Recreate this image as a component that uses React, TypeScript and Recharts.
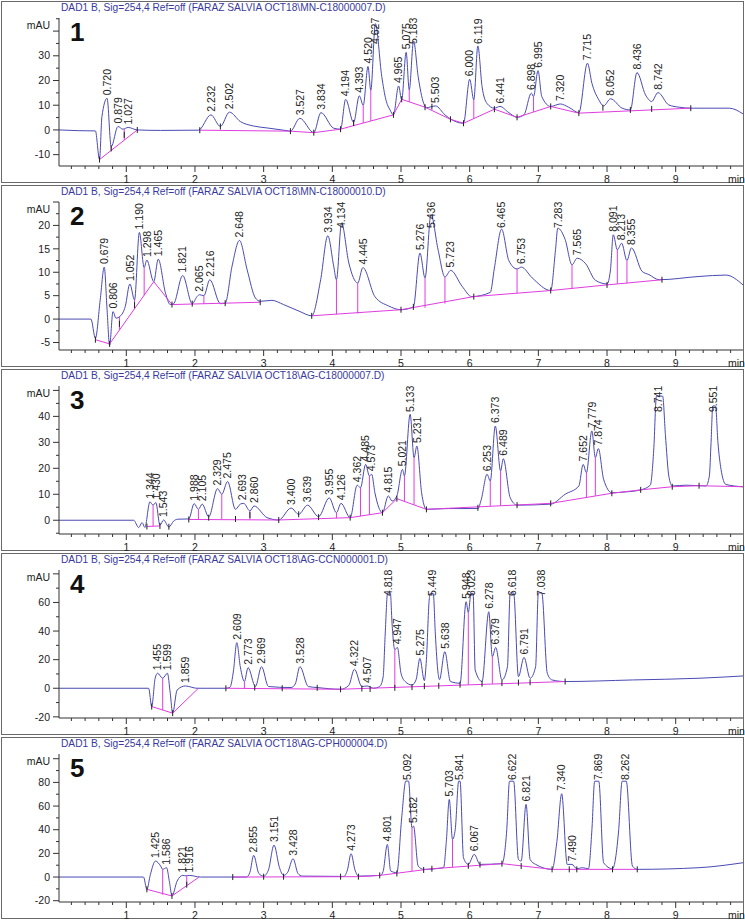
import React from "react";
import { ComposedChart, Line, Scatter, XAxis, YAxis, ReferenceLine } from "recharts";

type Pt = [number, number | null];
type Drop = [number, number, number];

const FONT = "'Liberation Sans', Arial, sans-serif";
const TRACE = "#4a4ab4";
const BASE = "#e03ce0";

// ---- panel 1 : MN-C18000007 ----
const p1Trace: Pt[] = [
  [0.02, 0], [0.3, -0.3], [0.55, -0.4], [0.61, -12], [0.645, 5.4], [0.72, 12.8], [0.78, -6.8], [0.879, 1.4],
  [0.95, 0.3], [1.027, 1.0], [1.16, 0], [1.5, -0.2], [2.05, -0.1], [2.232, 6.1], [2.37, 1.4], [2.502, 7.2],
  [2.66, 3.4], [2.85, 1.6], [3.05, 0.8], [3.34, -0.3], [3.39, -0.5], [3.527, 4.7], [3.73, -1.1], [3.834, 7.0],
  [4.02, 0.7], [4.12, 0.3], [4.194, 12.4], [4.31, 3.0], [4.393, 13.8], [4.45, 10], [4.52, 25.7], [4.56, 16],
  [4.627, 43], [4.72, 21.6], [4.78, 12.2], [4.84, 8.1], [4.89, 6.1], [4.965, 17.8], [5.01, 12.2], [5.075, 31.4],
  [5.12, 16.2], [5.183, 36], [5.25, 21.6], [5.33, 10.8], [5.37, 9], [5.503, 9.7], [5.64, 6.1], [5.74, 4.1],
  [5.91, 2.7], [6.0, 20.5], [6.06, 12.2], [6.119, 34], [6.18, 17.6], [6.25, 10.8], [6.36, 8.8], [6.441, 9.5],
  [6.57, 7.0], [6.69, 5.1], [6.79, 6.1], [6.898, 14.9], [6.93, 13.5], [6.995, 24], [7.05, 13.5], [7.18, 9.5],
  [7.32, 10.5], [7.44, 9.2], [7.59, 7.0], [7.715, 27], [7.78, 18.9], [7.88, 12.2], [7.95, 9.7], [8.052, 12.6],
  [8.22, 8.8], [8.34, 8.1], [8.436, 23.2], [8.56, 14.2], [8.65, 11.5], [8.742, 15.1], [8.9, 10.1], [9.05, 9.2],
  [9.22, 8.8], [9.78, 8.8], [9.98, 6.5],
];
const p1Base: Pt[] = [
  [0.61, -12], [1.16, 0], [1.6, null], [2.07, -0.1], [3.39, -0.5], [3.73, -1.1], [4.12, 0.3], [4.89, 6.1],
  [5.01, 12.4], [5.35, 9.2], [5.72, 4.3], [5.91, 2.7], [6.36, 8.4], [6.69, 5.1], [7.18, 9.5], [7.59, 6.8], [9.22, 8.8],
];
const p1Drops: Drop[] = [
  [0.78, -8.3, -6.8], [0.97, -4.1, 0.3], [4.31, 1.7, 3.0], [4.45, 2.8, 10], [4.56, 3.6, 16],
  [5.12, 11.4, 16.2], [6.06, 4.6, 12.2], [6.93, 7.3, 13.5],
];
const p1Marks: Pt[] = [
  [0.61, -12], [0.78, -7.5], [0.97, -2], [1.16, 0], [2.07, -0.1], [2.37, 1.4], [3.39, -0.5], [3.73, -1.1],
  [4.12, 0.3], [4.31, 2.8], [4.89, 6.1], [5.01, 12.4], [5.35, 9.2], [5.45, 9.4], [5.72, 4.3], [5.91, 2.7],
  [6.36, 8.4], [6.69, 5.1], [7.18, 9.5], [7.59, 6.8], [7.94, 9.0], [8.34, 8.1], [8.65, 8.5], [9.22, 8.8],
];
const p1Peaks: Pt[] = [
  [0.72, 12.8], [0.879, 1.4], [1.027, 1.0], [2.232, 6.1], [2.502, 7.2], [3.527, 4.7], [3.834, 7.0], [4.194, 12.4],
  [4.393, 13.8], [4.52, 25.7], [4.627, 43], [4.965, 17.8], [5.075, 31.4], [5.183, 36], [5.503, 9.7], [6.0, 20.5],
  [6.119, 34], [6.441, 9.5], [6.898, 14.9], [6.995, 24], [7.32, 10.5], [7.715, 27], [8.052, 12.6], [8.436, 23.2],
  [8.742, 15.1],
];

// ---- panel 2 : MN-C18000010 ----
const p2Trace: Pt[] = [
  [0.02, 0], [0.485, 0], [0.55, -4.1], [0.62, 4.1], [0.679, 11.1], [0.72, 2], [0.757, -5.6], [0.806, 1.6],
  [0.85, 0.2], [0.91, 0.6], [0.985, 2.7], [1.052, 7.5], [1.12, 4.1], [1.19, 18.5], [1.26, 11.0], [1.298, 12.6],
  [1.4, 8.0], [1.465, 12.8], [1.57, 5.6], [1.64, 3.1], [1.69, 3.3], [1.821, 9.3], [1.96, 3.3], [2.03, 4.8],
  [2.065, 5.2], [2.13, 5.0], [2.216, 8.4], [2.37, 3.3], [2.44, 3.4], [2.54, 11.3], [2.648, 16.8], [2.76, 10.5],
  [2.88, 4.5], [2.95, 3.8], [3.12, 4.0], [3.29, 3.1], [3.53, 1.6], [3.7, 0.7], [3.83, 8.4], [3.934, 17.8],
  [4.02, 11.3], [4.06, 8.4], [4.134, 20.5], [4.24, 12.0], [4.37, 7.7], [4.445, 11.0], [4.62, 4.8], [4.82, 2.8],
  [5.0, 2.0], [5.18, 2.6], [5.276, 14.1], [5.35, 8.8], [5.436, 22.3], [5.54, 14.8], [5.64, 9.0], [5.723, 10.4],
  [5.89, 7.0], [6.03, 4.8], [6.3, 5.7], [6.36, 10.9], [6.465, 19.2], [6.57, 12.5], [6.69, 10.7], [6.753, 11.1],
  [6.91, 8.8], [7.18, 6.1], [7.25, 14.8], [7.283, 19.4], [7.39, 17], [7.49, 11.6], [7.565, 13.0], [7.69, 11.8],
  [7.83, 8.3], [8.0, 7.5], [8.05, 10.5], [8.091, 18.0], [8.15, 14.8], [8.213, 16.2], [8.29, 12.5], [8.355, 15.2],
  [8.51, 10.2], [8.61, 9.5], [8.76, 8.4], [9.34, 9.1], [9.73, 9.4], [9.98, 7.3],
];
const p2Base: Pt[] = [
  [0.55, -4.4], [0.757, -5.3], [1.4, 8.0], [1.665, 3.1], [2.95, 3.6], [3.3, null], [3.7, 0.7], [5.0, 2.0],
  [6.06, 4.8], [7.18, 6.1], [8.0, 7.3], [8.8, 8.4],
];
const p2Drops: Drop[] = [
  [0.9, -2.3, 0.6], [1.12, 2.2, 4.1], [1.26, 5.1, 11.0], [2.13, 3.2, 5.0], [4.06, 1.0, 8.4], [4.37, 1.2, 7.7],
  [5.35, 2.4, 8.8], [5.64, 3.3, 9.0], [6.69, 5.5, 10.7], [7.49, 6.5, 11.6], [8.15, 7.5, 14.8], [8.29, 7.6, 12.5],
];
const p2Marks: Pt[] = [
  [0.55, -4.4], [0.757, -5.3], [0.9, -1], [1.12, 3], [1.665, 3.1], [1.96, 3.3], [2.44, 3.4], [2.95, 3.6],
  [3.7, 0.7], [5.0, 2.0], [5.18, 2.6], [6.06, 4.8], [7.18, 6.1], [8.0, 7.3], [8.8, 8.4],
];
const p2Peaks: Pt[] = [
  [0.679, 11.1], [0.806, 1.6], [1.052, 7.5], [1.19, 18.5], [1.298, 12.6], [1.465, 12.8], [1.821, 9.3],
  [2.065, 5.2], [2.216, 8.4], [2.648, 16.8], [3.934, 17.8], [4.134, 20.5], [4.445, 11.0], [5.276, 14.1],
  [5.436, 22.3], [5.723, 10.4], [6.465, 19.2], [6.753, 11.1], [7.283, 19.4], [7.565, 13.0], [8.091, 18.0],
  [8.213, 16.2], [8.355, 15.2],
];

// ---- panel 3 : AG-C18000007 ----
const p3Trace: Pt[] = [
  [0.02, 0], [1.107, 0], [1.18, -2.8], [1.23, -0.9], [1.27, -2.8], [1.344, 7.1], [1.39, 5.8], [1.43, 6.8],
  [1.49, -1.9], [1.543, 0.1], [1.62, -2.6], [1.69, -0.3], [1.75, 0.4], [1.91, 0.5], [1.988, 6.4], [2.05, 4.2],
  [2.105, 6.2], [2.2, 1.3], [2.329, 12.2], [2.39, 10], [2.475, 14.9], [2.59, 4.2], [2.66, 6.2], [2.71, 6.5],
  [2.8, 3.6], [2.86, 5.5], [3.05, 1.0], [3.22, 0.1], [3.4, 4.7], [3.51, 2.3], [3.639, 5.8], [3.8, 1.4],
  [3.955, 8.6], [4.06, 2.9], [4.126, 6.5], [4.26, 1.0], [4.362, 13.5], [4.41, 12.5], [4.485, 21.5], [4.54, 17.1],
  [4.573, 17.7], [4.62, 10.6], [4.73, 2.9], [4.815, 9.4], [4.87, 7.4], [4.94, 9.4], [5.021, 19.6], [5.05, 17.1],
  [5.133, 40.8], [5.19, 24.1], [5.231, 28.6], [5.3, 10.6], [5.37, 4.2], [5.69, 4.5], [6.12, 4.5], [6.17, 8.1],
  [6.253, 17.7], [6.3, 15.1], [6.373, 36.3], [6.45, 19.0], [6.489, 23.7], [6.59, 8.7], [6.69, 5.8], [7.18, 6.2],
  [7.39, 10], [7.59, 13.2], [7.652, 21.5], [7.7, 18.3], [7.779, 34.4], [7.83, 24.1], [7.874, 27.6], [7.95, 15.8],
  [8.07, 10.6], [8.27, 10.9], [8.49, 11.7], [8.63, 13.5], [8.68, 27], [8.72, 47.8], [8.81, 47.8], [8.85, 33],
  [8.9, 17], [8.95, 13.2], [9.15, 13.5], [9.44, 13.2], [9.49, 17], [9.515, 30], [9.54, 44], [9.58, 44],
  [9.615, 30], [9.66, 19.6], [9.73, 13.8], [9.98, 12.9],
];
const p3Base: Pt[] = [
  [1.3, -2.4], [1.49, -2.2], [1.7, null], [1.91, 0.3], [3.22, 0.1], [4.26, 1.0], [4.73, 2.9], [4.94, 8.3],
  [5.37, 4.2], [7.18, 6.5], [8.07, 10.4], [8.49, 11.7], [8.95, 12.9], [9.34, 13.3], [9.98, 12.9],
];
const p3Drops: Drop[] = [
  [1.39, -2.3, 5.8], [2.05, 0.3, 4.2], [2.39, 0.4, 10], [2.8, 0.2, 3.6], [4.06, 0.8, 2.9], [4.41, 1.6, 12.5],
  [4.54, 2.1, 17.1], [5.05, 7.3, 17.1], [5.19, 5.9, 24.1], [6.3, 5.4, 15.1], [6.45, 5.6, 19.0],
  [7.7, 8.8, 18.3], [7.83, 9.4, 24.1],
];
const p3Marks: Pt[] = [
  [1.3, -2.4], [1.49, -2.2], [1.62, -2.5], [1.91, 0.3], [2.2, 1.0], [2.59, 0.5], [2.8, 2], [3.22, 0.1],
  [3.51, 2.3], [3.8, 1.2], [4.26, 1.0], [4.73, 2.9], [4.94, 8.3], [5.37, 4.2], [6.12, 4.8], [6.69, 5.8],
  [7.18, 6.5], [8.07, 10.4], [8.49, 11.7], [8.95, 12.9], [9.34, 13.3],
];
const p3Peaks: Pt[] = [
  [1.344, 7.1], [1.43, 6.8], [1.543, 0.1], [1.988, 6.4], [2.105, 6.2], [2.329, 12.2], [2.475, 14.9], [2.693, 6.5],
  [2.86, 5.5], [3.4, 4.7], [3.639, 5.8], [3.955, 8.6], [4.126, 6.5], [4.362, 13.5], [4.485, 21.5], [4.573, 17.7],
  [4.815, 9.4], [5.021, 19.6], [5.133, 40.8], [5.231, 28.6], [6.253, 17.7], [6.373, 36.3], [6.489, 23.7],
  [7.652, 21.5], [7.779, 34.4], [7.874, 27.6], [8.741, 47.8], [9.551, 44],
];

// ---- panel 4 : AG-CCN000001 ----
const p4Trace: Pt[] = [
  [0.02, 0], [1.325, 0], [1.37, -12.8], [1.42, 7.0], [1.455, 10.5], [1.53, 7.0], [1.599, 10.5], [1.64, -3.5],
  [1.675, -17.4], [1.74, -1.2], [1.859, 1.6], [2.03, 0], [2.45, 0], [2.51, 0.7], [2.56, 12], [2.609, 31.9],
  [2.66, 15], [2.72, 4.7], [2.773, 14.4], [2.88, 1.2], [2.969, 15.1], [3.07, 1.2], [3.4, 0.5], [3.46, 3],
  [3.528, 15.1], [3.65, 1.2], [3.78, 0.5], [4.12, -0.7], [4.24, 2.0], [4.322, 13.3], [4.43, 1.2], [4.507, 1.6],
  [4.6, 0], [4.69, 1.2], [4.74, 8], [4.77, 38], [4.805, 66.7], [4.845, 66.7], [4.87, 45], [4.91, 27],
  [4.947, 28.6], [5.0, 10.5], [5.06, 4.7], [5.16, 2.3], [5.22, 6], [5.275, 20.9], [5.34, 5.3], [5.37, 20],
  [5.41, 61.6], [5.425, 66.3], [5.47, 66.3], [5.5, 38], [5.54, 10.5], [5.56, 6], [5.638, 25.6], [5.72, 4.7],
  [5.86, 3.5], [5.948, 60.5], [5.98, 53], [6.02, 66.3], [6.05, 66.3], [6.08, 12.8], [6.18, 4.7], [6.278, 53.5],
  [6.33, 22.1], [6.379, 28.6], [6.47, 5.8], [6.55, 15], [6.59, 66.7], [6.64, 66.7], [6.71, 8.1], [6.791, 21.6],
  [6.88, 7.0], [6.96, 15], [7.0, 66.7], [7.05, 66.7], [7.13, 10.5], [7.2, 5.8], [7.39, 4.7], [8.37, 5.8],
  [9.34, 7.0], [9.98, 8.6],
];
const p4Base: Pt[] = [
  [1.37, -12.8], [1.675, -17.4], [2.05, 0], [2.2, null], [2.45, 0], [4.12, -0.7], [7.39, 4.7],
];
const p4Drops: Drop[] = [
  [1.53, -15.3, 7.0], [2.72, -0.2, 4.7], [4.91, 0.6, 27], [5.98, 2.4, 53], [6.33, 3.0, 22.1],
];
const p4Marks: Pt[] = [
  [1.37, -12.8], [1.675, -17.4], [2.45, 0], [2.87, 0.5], [3.27, 0], [3.78, 0.3], [4.12, -0.7], [4.43, -0.2],
  [4.55, -0.5], [4.91, 0.3], [5.16, 0.8], [5.34, 1.5], [5.55, 1.7], [5.86, 2.5], [6.18, 3.2], [6.47, 3.6],
  [6.71, 4.0], [6.88, 4.2], [7.39, 4.7],
];
const p4Peaks: Pt[] = [
  [1.455, 10.5], [1.599, 10.5], [1.859, 1.6], [2.609, 31.9], [2.773, 14.4], [2.969, 15.1], [3.528, 15.1],
  [4.322, 13.3], [4.507, 1.6], [4.818, 66.7], [4.947, 28.6], [5.275, 20.9], [5.449, 66.3], [5.638, 25.6],
  [5.948, 60.5], [6.023, 66.3], [6.278, 53.5], [6.379, 28.6], [6.618, 66.7], [6.791, 21.6], [7.038, 66.7],
];

// ---- panel 5 : AG-CPH000004 ----
const p5Trace: Pt[] = [
  [0.02, 0], [1.25, 0], [1.3, -10.4], [1.35, 2], [1.425, 13.5], [1.5, 9.3], [1.53, 6.5], [1.586, 7.9],
  [1.63, -4.8], [1.665, -16], [1.74, -3.4], [1.821, 1.4], [1.87, 1.0], [1.916, 1.4], [2.08, 0], [2.75, 0],
  [2.8, 4], [2.855, 18.3], [2.93, 3], [3.0, 0.8], [3.07, 6], [3.151, 27], [3.23, 8], [3.29, 1.4], [3.35, 4],
  [3.428, 15.5], [3.5, 3], [3.56, 0.8], [4.17, 0.5], [4.22, 6], [4.273, 19.7], [4.33, 6], [4.38, 0.8],
  [4.7, 1.4], [4.74, 4.8], [4.801, 27.6], [4.85, 5.1], [4.94, 3.7], [5.01, 50], [5.07, 81.1], [5.11, 81.1],
  [5.16, 41.7], [5.182, 43.1], [5.25, 9.3], [5.33, 6.5], [5.62, 7.9], [5.66, 30], [5.703, 65.6], [5.75, 31.8],
  [5.79, 40.3], [5.84, 81], [5.86, 81], [5.91, 16.3], [5.98, 10.7], [6.067, 19.2], [6.15, 10.7], [6.47, 11.3],
  [6.54, 40], [6.58, 81], [6.64, 81], [6.71, 14.9], [6.75, 13.5], [6.821, 61.4], [6.88, 14.9], [6.96, 10.7],
  [7.2, 6.5], [7.27, 30], [7.34, 70.4], [7.42, 10.7], [7.49, 10.7], [7.56, 7.0], [7.64, 7.9], [7.73, 7.0],
  [7.78, 40], [7.82, 81], [7.88, 81], [7.95, 12.1], [8.08, 7.0], [8.17, 40], [8.22, 81], [8.28, 81],
  [8.37, 9.3], [8.44, 6.5], [9.34, 7.9], [9.98, 12.1],
];
const p5Base: Pt[] = [
  [1.3, -10.4], [1.665, -16], [2.06, 0], [2.3, null], [2.55, 0], [4.38, 0.3], [4.69, 1.4], [5.45, 7.0],
  [6.47, 11.3], [7.2, 6.5], [8.44, 6.5],
];
const p5Drops: Drop[] = [
  [1.53, -14.9, 6.5], [1.88, -7.3, 1.2], [5.16, 4.9, 41.7], [5.75, 8.3, 31.8],
];
const p5Marks: Pt[] = [
  [1.3, -10.4], [1.665, -16], [1.88, -6.5], [2.55, 0], [3.0, 0.3], [3.29, 0.3], [4.12, 0.3], [4.38, 0.3],
  [4.69, 1.4], [4.94, 3.0], [5.33, 6.0], [5.45, 7.0], [5.98, 9.5], [6.15, 10.5], [6.47, 11.3], [6.75, 9.3],
  [7.2, 6.5], [7.45, 6.5], [7.56, 6.5], [8.08, 6.5], [8.44, 6.5],
];
const p5Peaks: Pt[] = [
  [1.425, 13.5], [1.586, 7.9], [1.821, 1.4], [1.916, 1.4], [2.855, 18.3], [3.151, 27], [3.428, 15.5],
  [4.273, 19.7], [4.801, 27.6], [5.092, 81.1], [5.182, 43.1], [5.703, 65.6], [5.841, 81], [6.067, 19.2],
  [6.622, 81], [6.821, 61.4], [7.34, 70.4], [7.49, 10.7], [7.869, 81], [8.262, 81],
];

// ---- axes ----
const files = ["MN-C18000007.D", "MN-C18000010.D", "AG-C18000007.D", "AG-CCN000001.D", "AG-CPH000004.D"];
const yDomains: [number, number][] = [[-14.6, 45.3], [-6.6, 25.0], [-5.3, 51.7], [-20.8, 82.7], [-21.1, 104]];
const yMajor = [
  [-10, 0, 10, 20, 30, 40],
  [-5, 0, 5, 10, 15, 20, 25],
  [0, 10, 20, 30, 40, 50],
  [-20, 0, 20, 40, 60, 80],
  [-20, 0, 20, 40, 60, 80, 100],
];
const yLabels = [
  [-10, 0, 10, 20, 30],
  [-5, 0, 5, 10, 15, 20],
  [0, 10, 20, 30, 40],
  [-20, 0, 20, 40, 60],
  [-20, 0, 20, 40, 60, 80],
];
const yMinor = [5, 2.5, 5, 10, 10];
const xLabels = [1, 2, 3, 4, 5, 6, 7, 8, 9];
const xTicks = Array.from({ length: 49 }, (_, i) => Math.round((i + 1) * 2) / 10);

const panels = [
  { trace: p1Trace, base: p1Base, drops: p1Drops, marks: p1Marks, peaks: p1Peaks },
  { trace: p2Trace, base: p2Base, drops: p2Drops, marks: p2Marks, peaks: p2Peaks },
  { trace: p3Trace, base: p3Base, drops: p3Drops, marks: p3Marks, peaks: p3Peaks },
  { trace: p4Trace, base: p4Base, drops: p4Drops, marks: p4Marks, peaks: p4Peaks },
  { trace: p5Trace, base: p5Base, drops: p5Drops, marks: p5Marks, peaks: p5Peaks },
];

const W = 745;
const H = 184;
const PLOT_TOP = 18;

const toRows = (pts: Pt[]) => pts.map(([t, v]) => ({ t, v }));

const XTick = (props: any) => {
  const { x, y, payload } = props;
  const major = xLabels.includes(payload.value);
  return (
    <g>
      <line x1={x} x2={x} y1={y} y2={y + (major ? 6 : 3)} stroke="#333" />
      {major && (
        <text x={x} y={y + 17} textAnchor="middle" fontSize={10.5} fill="#222" fontFamily={FONT}>
          {payload.value}
        </text>
      )}
    </g>
  );
};

const makeYTick = (idx: number) => (props: any) => {
  const { x, y, payload } = props;
  const major = yMajor[idx].includes(payload.value);
  const label = yLabels[idx].includes(payload.value);
  return (
    <g>
      <line x1={x} x2={x - (major ? 6 : 3)} y1={y} y2={y} stroke="#333" />
      {label && (
        <text x={x - 9} y={y} dy="0.35em" textAnchor="end" fontSize={10.5} fill="#222" fontFamily={FONT}>
          {payload.value}
        </text>
      )}
    </g>
  );
};

const PeakLabel = (props: any) => {
  const { cx, cy, payload } = props;
  if (cx == null || cy == null) return null;
  const y0 = Math.max(cy - 3, PLOT_TOP + 26);
  return (
    <text
      x={cx}
      y={y0}
      dy="0.36em"
      transform={`rotate(-90 ${cx} ${y0})`}
      fontSize={10.5}
      fill="#222"
      fontFamily={FONT}
    >
      {payload.t.toFixed(3)}
    </text>
  );
};

const Mark = (props: any) => {
  const { cx, cy } = props;
  if (cx == null || cy == null) return null;
  return <line x1={cx} x2={cx} y1={cy - 3} y2={cy + 3} stroke="#222" />;
};

function Panel({ idx }: { idx: number }) {
  const p = panels[idx];
  const [lo, hi] = yDomains[idx];
  const step = yMinor[idx];
  const yTicks: number[] = [];
  for (let v = Math.ceil(lo / step) * step; v <= hi; v += step) yTicks.push(Math.round(v * 10) / 10);

  return (
    <div style={{ position: "absolute", left: 0, top: idx * H, width: W, height: H }}>
      <div
        style={{
          position: "absolute",
          left: 1,
          top: 1,
          width: W - 2,
          height: H - 2,
          boxSizing: "border-box",
          border: "1px solid #6a6a6a",
        }}
      />
      <ComposedChart
        width={W}
        height={H}
        margin={{ top: PLOT_TOP, right: 2, bottom: 0, left: 0 }}
        style={{ position: "absolute", left: 0, top: 0 }}
      >
        <XAxis
          type="number"
          dataKey="t"
          domain={[0.02, 9.98]}
          allowDataOverflow
          ticks={xTicks}
          interval={0}
          tickSize={0}
          tickMargin={0}
          tickLine={false}
          tick={(tp: any) => <XTick {...tp} />}
          axisLine={{ stroke: "#333" }}
          height={18}
        />
        <YAxis
          type="number"
          dataKey="v"
          domain={[lo, hi]}
          allowDataOverflow
          ticks={yTicks}
          interval={0}
          tickSize={0}
          tickMargin={0}
          tickLine={false}
          tick={makeYTick(idx)}
          axisLine={{ stroke: "#333" }}
          width={59}
        />
        <Line
          data={toRows(p.trace)}
          dataKey="v"
          type="monotone"
          stroke={TRACE}
          strokeWidth={1}
          dot={false}
          activeDot={false}
          isAnimationActive={false}
        />
        <Line
          data={toRows(p.base)}
          dataKey="v"
          type="linear"
          stroke={BASE}
          strokeWidth={1}
          dot={false}
          activeDot={false}
          connectNulls={false}
          isAnimationActive={false}
        />
        {p.drops.map(([t, a, b], i) => (
          <ReferenceLine
            key={i}
            segment={[{ x: t, y: a }, { x: t, y: b }]}
            stroke={BASE}
            strokeWidth={1}
          />
        ))}
        <Scatter data={toRows(p.marks)} dataKey="v" shape={(sp: any) => <Mark {...sp} />} isAnimationActive={false} />
        <Scatter data={toRows(p.peaks)} dataKey="v" shape={(sp: any) => <PeakLabel {...sp} />} isAnimationActive={false} />
      </ComposedChart>
      <div
        style={{
          position: "absolute",
          left: 61,
          top: 1,
          fontSize: 10.2,
          lineHeight: "14px",
          color: "#3a3a9e",
          fontFamily: FONT,
          whiteSpace: "nowrap",
        }}
      >
        {`DAD1 B, Sig=254,4 Ref=off (FARAZ SALVIA OCT18\\${files[idx]})`}
      </div>
      <div
        style={{
          position: "absolute",
          left: 70,
          top: 19,
          fontSize: 26,
          lineHeight: "26px",
          fontWeight: "bold",
          color: "#111",
          fontFamily: FONT,
        }}
      >
        {idx + 1}
      </div>
      <div
        style={{
          position: "absolute",
          left: 10,
          width: 40,
          top: 18,
          textAlign: "right",
          fontSize: 10.5,
          lineHeight: "14px",
          color: "#222",
          fontFamily: FONT,
        }}
      >
        mAU
      </div>
      <div
        style={{
          position: "absolute",
          left: 728,
          top: 172,
          fontSize: 10.5,
          lineHeight: "14px",
          color: "#222",
          fontFamily: FONT,
        }}
      >
        min
      </div>
    </div>
  );
}

export default function App() {
  return (
    <div
      style={{
        position: "absolute",
        left: 0,
        top: 0,
        width: W,
        height: 923,
        background: "#fff",
        overflow: "hidden",
      }}
    >
      {[0, 1, 2, 3, 4].map((i) => (
        <Panel key={i} idx={i} />
      ))}
    </div>
  );
}
